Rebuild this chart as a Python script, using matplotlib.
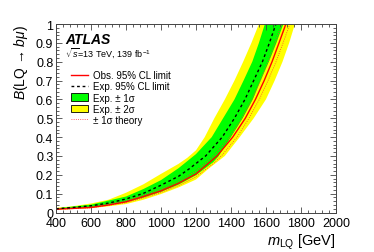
import numpy as np
import matplotlib
matplotlib.use("Agg")
import matplotlib.pyplot as plt
from matplotlib.lines import Line2D
from matplotlib.patches import Patch
from matplotlib.ticker import MultipleLocator

plt.rcParams['font.family'] = ['Liberation Sans', 'DejaVu Sans']
plt.rcParams['mathtext.fontset'] = 'custom'
plt.rcParams['mathtext.rm'] = 'Liberation Sans'
plt.rcParams['mathtext.it'] = 'Liberation Sans:italic'
plt.rcParams['mathtext.bf'] = 'Liberation Sans:bold'

# limit curves as (mass [GeV], branching ratio) points
yel_hi_m = [400, 500, 600, 700, 800, 900, 1000, 1100, 1150, 1200, 1250, 1305, 1365, 1420, 1470, 1517, 1560, 1580]
yel_hi_b = [0.025, 0.034, 0.048, 0.068, 0.105, 0.150, 0.205, 0.258, 0.290, 0.330, 0.40, 0.50, 0.60, 0.70, 0.80, 0.90, 1.0, 1.05]

grn_hi_m = [400, 600, 800, 900, 1000, 1100, 1200, 1290, 1355, 1420, 1472, 1522, 1560, 1594, 1615]
grn_hi_b = [0.022, 0.042, 0.085, 0.125, 0.172, 0.235, 0.310, 0.40, 0.50, 0.60, 0.70, 0.80, 0.90, 1.0, 1.06]

exp_m = [400, 500, 600, 700, 800, 900, 1000, 1100, 1160, 1255, 1350, 1420, 1480, 1530, 1580, 1620, 1657, 1680]
exp_b = [0.020, 0.027, 0.036, 0.050, 0.072, 0.102, 0.145, 0.192, 0.231, 0.30, 0.40, 0.50, 0.60, 0.70, 0.80, 0.90, 1.0, 1.06]

obs_m = [400, 500, 600, 700, 800, 900, 1000, 1100, 1200, 1320, 1410, 1482, 1540, 1590, 1635, 1675, 1714, 1740]
obs_b = [0.018, 0.022, 0.027, 0.040, 0.057, 0.085, 0.115, 0.155, 0.205, 0.30, 0.40, 0.50, 0.60, 0.70, 0.80, 0.90, 1.0, 1.07]

grn_lo_m = [400, 600, 800, 900, 1000, 1100, 1200, 1300, 1330, 1400, 1467, 1525, 1570, 1617, 1660, 1700, 1725]
grn_lo_b = [0.017, 0.028, 0.055, 0.080, 0.110, 0.148, 0.198, 0.268, 0.30, 0.40, 0.50, 0.60, 0.70, 0.80, 0.90, 1.0, 1.06]

yel_lo_m = [400, 600, 700, 800, 900, 1000, 1100, 1200, 1270, 1365, 1450, 1530, 1600, 1650, 1695, 1733, 1766, 1790]
yel_lo_b = [0.014, 0.023, 0.033, 0.045, 0.068, 0.098, 0.133, 0.175, 0.231, 0.30, 0.40, 0.50, 0.60, 0.70, 0.80, 0.90, 1.0, 1.07]

th_up_m = [400, 600, 800, 900, 1000, 1100, 1200, 1300, 1393, 1462, 1520, 1568, 1612, 1652, 1690, 1715]
th_up_b = [0.019, 0.030, 0.062, 0.092, 0.124, 0.167, 0.220, 0.30, 0.40, 0.50, 0.60, 0.70, 0.80, 0.90, 1.0, 1.07]

th_dn_m = [400, 600, 800, 900, 1000, 1100, 1200, 1300, 1345, 1435, 1503, 1562, 1612, 1658, 1698, 1737, 1760]
th_dn_b = [0.017, 0.025, 0.052, 0.078, 0.106, 0.143, 0.190, 0.260, 0.30, 0.40, 0.50, 0.60, 0.70, 0.80, 0.90, 1.0, 1.06]

fig = plt.figure(figsize=(3.74, 2.53), dpi=100)
ax = fig.add_axes([0.150, 0.156, 0.748, 0.745])

ax.fill(np.r_[yel_hi_m, yel_lo_m[::-1]], np.r_[yel_hi_b, yel_lo_b[::-1]], color='#ffff00', lw=0)
ax.fill(np.r_[grn_hi_m, grn_lo_m[::-1]], np.r_[grn_hi_b, grn_lo_b[::-1]], color='#00ff00', lw=0)
ax.plot(th_up_m, th_up_b, color='#ff3030', lw=0.6, ls=':')
ax.plot(th_dn_m, th_dn_b, color='#ff3030', lw=0.6, ls=':')
ax.plot(obs_m, obs_b, color='#ff0000', lw=1.0)
ax.plot(exp_m, exp_b, color='black', lw=1.0, ls=(0, (2, 2)))

ax.set_xlim(400, 2000)
ax.set_ylim(0, 1)
ax.xaxis.set_major_locator(MultipleLocator(200))
ax.xaxis.set_minor_locator(MultipleLocator(40))
ax.yaxis.set_major_locator(MultipleLocator(0.1))
ax.yaxis.set_minor_locator(MultipleLocator(0.02))
ax.yaxis.set_major_formatter(plt.FuncFormatter(lambda v, p: '%g' % round(v, 1)))
ax.tick_params(which='both', direction='in', top=True, right=True, labelsize=9, width=0.6, color='#444444')
ax.tick_params(which='major', length=4.5)
ax.tick_params(which='minor', length=2.2)
ax.tick_params(axis='x', pad=3.5)
ax.tick_params(axis='y', pad=2)
for s in ax.spines.values():
    s.set_linewidth(0.7)
    s.set_color('#444444')

ax.set_ylabel(r'$B$(LQ → $b\mu$)', fontsize=10, loc='top', labelpad=4)
ax.set_xlabel(r'$m_{\rm LQ}$ [GeV]', fontsize=10.5, loc='right', labelpad=1.5)

ax.text(0.033, 0.92, 'ATLAS', transform=ax.transAxes, fontsize=10, fontweight='bold',
        fontstyle='italic', va='center')
ax.text(0.033, 0.85, r'$\sqrt{s}$=13 TeV, 139 fb$^{-1}$', transform=ax.transAxes,
        fontsize=6.5, va='center')

handles = [
    Line2D([], [], color='#ff0000', lw=1.0),
    Line2D([], [], color='black', lw=1.0, ls=(0, (2, 2))),
    Patch(facecolor='#00ff00', edgecolor='black', lw=0.6),
    Patch(facecolor='#ffff00', edgecolor='black', lw=0.6),
    Line2D([], [], color='#ff3030', lw=0.6, ls=':'),
]
labels = ['Obs. 95% CL limit', 'Exp. 95% CL limit', 'Exp. ± 1σ', 'Exp. ± 2σ', '± 1σ theory']
ax.legend(handles, labels, loc='upper left', bbox_to_anchor=(0.053, 0.755), frameon=False,
          fontsize=7, handlelength=1.8, handleheight=0.8, handletextpad=0.45,
          labelspacing=0.12, borderpad=0, borderaxespad=0)

fig.savefig('out.png', dpi=100)
